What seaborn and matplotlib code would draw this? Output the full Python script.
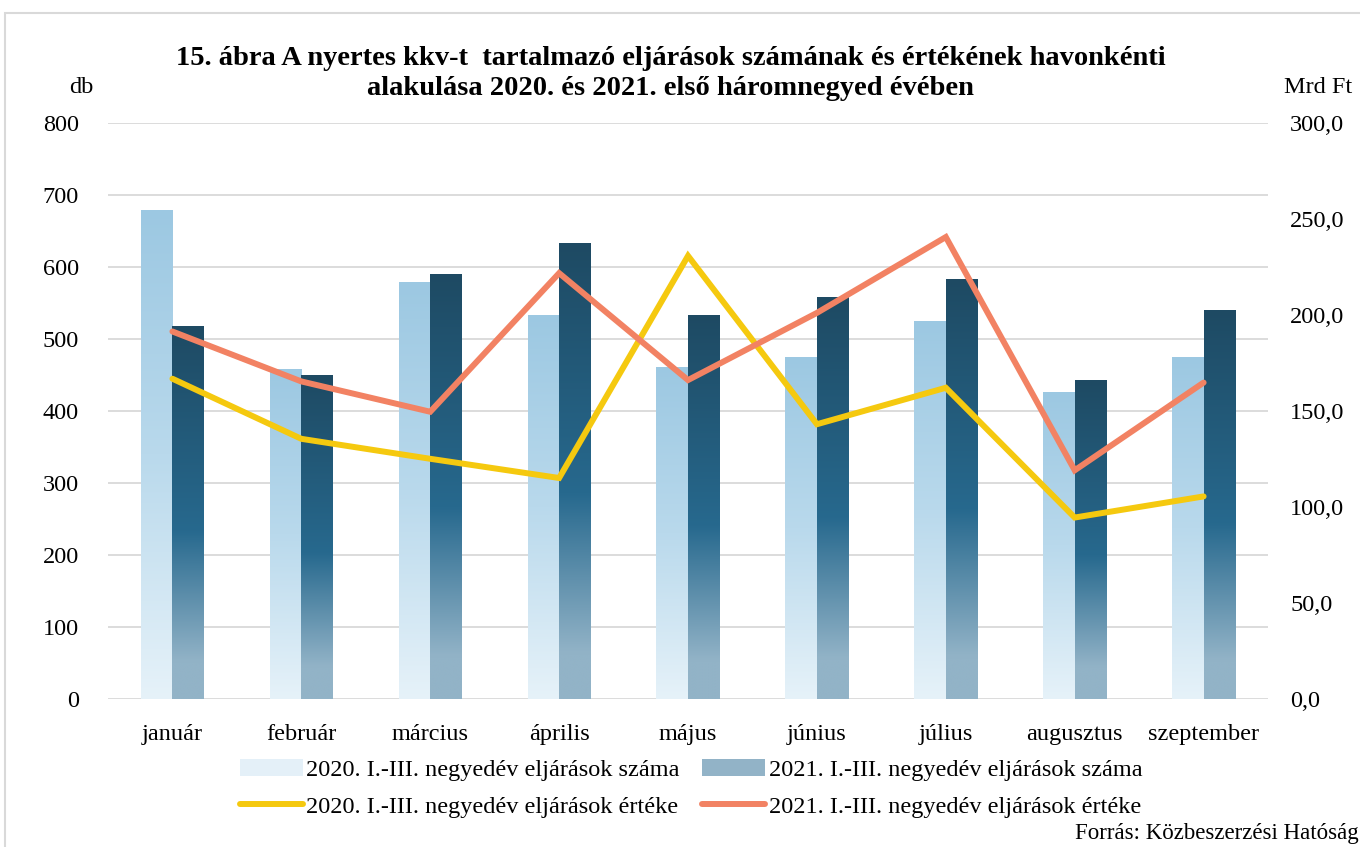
import numpy as np
import pandas as pd
import matplotlib.pyplot as plt
import seaborn as sns
from matplotlib.colors import LinearSegmentedColormap
from matplotlib.patches import Patch, Rectangle
from matplotlib.lines import Line2D

# Data
MONTHS = ['január', 'február', 'március', 'április', 'május',
          'június', 'július', 'augusztus', 'szeptember']
COUNT_2020 = [678, 457, 578, 533, 461, 475, 525, 426, 475]
COUNT_2021 = [517, 450, 589, 632, 533, 558, 583, 442, 540]
VALUE_2020 = [166.7, 135.4, 125.0, 115.0, 230.7, 143.0, 162.0, 94.4, 105.4]
VALUE_2021 = [191.3, 165.3, 149.5, 221.7, 166.0, 201.0, 240.5, 119.0, 164.7]

LABELS = ['2020. I.-III. negyedév eljárások száma',
          '2021. I.-III. negyedév eljárások száma',
          '2020. I.-III. negyedév eljárások értéke',
          '2021. I.-III. negyedév eljárások értéke']

TITLE = ('15. ábra A nyertes kkv-t  tartalmazó eljárások számának és értékének havonkénti\n'
         'alakulása 2020. és 2021. első háromnegyed évében')

LIGHT_CMAP = LinearSegmentedColormap.from_list(
    'light', [(0, '#9cc8e2'), (0.5, '#b9d9ec'), (1, '#e6f2f9')])
DARK_CMAP = LinearSegmentedColormap.from_list(
    'dark', [(0, '#1e4a63'), (0.55, '#27698e'), (0.9, '#92b3c7'), (1, '#92b3c7')])
YELLOW = '#f5c90f'
ORANGE = '#f28263'
GRID = '#d9d9d9'
FONT = ['Liberation Serif', 'DejaVu Serif']


def gradient_bars(ax, patches, cmap):
    """Replace flat bar fills with a vertical gradient."""
    grad = np.linspace(0, 1, 256).reshape(-1, 1)
    for p in patches:
        x0, y0 = p.get_x(), p.get_y()
        w, h = p.get_width(), p.get_height()
        p.set_facecolor('none')
        p.set_edgecolor('none')
        ax.imshow(grad, cmap=cmap, aspect='auto', origin='upper',
                  extent=[x0, x0 + w, y0, y0 + h], zorder=2, interpolation='bicubic')


def main():
    sns.set_theme(style='white')
    plt.rcParams['font.family'] = FONT
    plt.rcParams['text.color'] = 'black'
    plt.rcParams['xtick.color'] = 'black'
    plt.rcParams['ytick.color'] = 'black'

    fig = plt.figure(figsize=(13.6, 8.47), dpi=100)
    ax = fig.add_axes([0.0794, 0.175, 0.853, 0.680])

    df = pd.DataFrame({
        'month': MONTHS * 2,
        'count': COUNT_2020 + COUNT_2021,
        'year': ['2020'] * len(MONTHS) + ['2021'] * len(MONTHS),
    })
    sns.barplot(data=df, x='month', y='count', hue='year', order=MONTHS,
                palette=['#9cc8e2', '#1e4a63'], width=0.49, gap=0,
                ax=ax, legend=False, zorder=2)

    patches = list(ax.patches)
    n = len(MONTHS)
    gradient_bars(ax, patches[:n], LIGHT_CMAP)
    gradient_bars(ax, patches[n:2 * n], DARK_CMAP)

    ax.set_xlim(-0.5, n - 0.5)
    ax.set_ylim(0, 800)
    ax.set_yticks(range(0, 801, 100))
    ax.set_axisbelow(True)
    ax.yaxis.grid(True, color=GRID, linewidth=1.3)
    ax.xaxis.grid(False)
    for s in ax.spines.values():
        s.set_visible(False)
    ax.set_xlabel('')
    ax.set_ylabel('')
    ax.tick_params(axis='y', length=0, pad=21, labelsize=17.5)
    ax.tick_params(axis='x', length=0, pad=18, labelsize=17.5)

    ax2 = ax.twinx()
    x = np.arange(n)
    sns.lineplot(x=x, y=VALUE_2020, ax=ax2, color=YELLOW, linewidth=4.3,
                 solid_capstyle='round', solid_joinstyle='miter')
    sns.lineplot(x=x, y=VALUE_2021, ax=ax2, color=ORANGE, linewidth=4.3,
                 solid_capstyle='round', solid_joinstyle='miter')
    ax2.set_ylim(0, 300)
    ax2.set_yticks(range(0, 301, 50))
    ax2.set_yticklabels([f'{v:.1f}'.replace('.', ',') for v in range(0, 301, 50)])
    ax2.tick_params(axis='y', length=0, pad=16, labelsize=17.5)
    ax2.grid(False)
    for s in ax2.spines.values():
        s.set_visible(False)
    ax2.set_xlim(-0.5, n - 0.5)

    fig.text(0.493, 0.913, TITLE, ha='center', va='center', fontsize=20.5,
             fontweight='bold', linespacing=1.25)
    fig.text(0.060, 0.897, 'db', ha='center', va='center', fontsize=17.5)
    fig.text(0.969, 0.897, 'Mrd Ft', ha='center', va='center', fontsize=17.5)
    fig.text(0.999, 0.016, 'Forrás: Közbeszerzési Hatóság', ha='right',
             va='center', fontsize=16.5)

    handles = [
        Patch(facecolor='#e4f0f8', edgecolor='none'),
        Patch(facecolor='#92b3c7', edgecolor='none'),
        Line2D([], [], color=YELLOW, linewidth=4.3, solid_capstyle='round'),
        Line2D([], [], color=ORANGE, linewidth=4.3, solid_capstyle='round'),
    ]
    # row-wise order: bars on the first row, lines on the second
    order = [0, 2, 1, 3]
    fig.legend([handles[i] for i in order], [LABELS[i] for i in order],
               loc='center', bbox_to_anchor=(0.508, 0.069),
               ncol=2, frameon=False, fontsize=17.5, handlelength=2.6,
               handletextpad=0.15, columnspacing=0.9, labelspacing=0.6)

    # thin frame around the chart area (partly cropped in the original)
    fig.patches.append(Rectangle((5 / 1360, -0.05), 1.1, 1 - 13 / 847 + 0.05,
                                 transform=fig.transFigure, fill=False,
                                 edgecolor=GRID, linewidth=1.5))

    fig.savefig('out.png', dpi=100)


if __name__ == '__main__':
    main()
